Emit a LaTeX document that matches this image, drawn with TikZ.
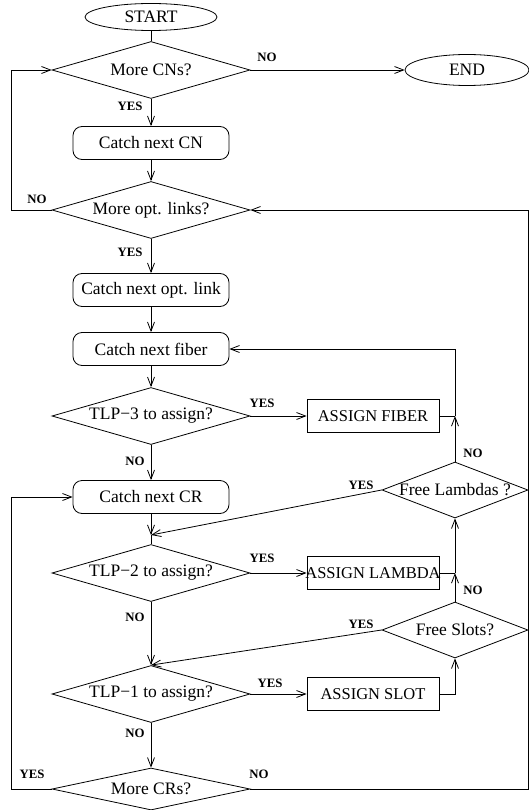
\documentclass[tikz,border=0pt]{standalone}
\usepackage{fontspec}
\setmainfont{Liberation Serif}
\usetikzlibrary{arrows.meta,positioning,shapes.geometric}

\begin{document}
\begin{tikzpicture}[x=1pt,y=-1pt,node distance=60pt,on grid,auto,line width=0.8pt,
   >={Straight Barb[length=9pt,width=7pt]},
   term/.style={ellipse,draw,minimum width=132pt,minimum height=27pt,inner sep=0pt,font=\fontsize{17.5}{20}\selectfont},
   proc/.style={rectangle,rounded corners=9pt,draw,minimum width=156pt,minimum height=33pt,inner sep=0pt,font=\fontsize{17.5}{20}\selectfont},
   act/.style={rectangle,draw,minimum width=132pt,minimum height=33pt,inner sep=0pt,font=\fontsize{16.5}{19}\selectfont},
   test/.style={diamond,draw,aspect=3.47,minimum width=198pt,minimum height=57pt,inner sep=0pt,font=\fontsize{17.5}{20}\selectfont},
   free/.style={test,aspect=2.6,minimum width=146pt,minimum height=56pt},
   lbl/.style={font=\bfseries\fontsize{12.8}{14}\selectfont,inner sep=0pt}]
   \useasboundingbox (0,0) rectangle (529,810);
   \node[term] (start) at (151,17) {START};
   \node[test] (cns) [below =53pt of start] {More CNs?};
   \node[term,minimum width=124pt,minimum height=31pt] (end) [right =316pt of cns] {END};
   \node[proc] (cn) [below =73pt of cns] {Catch next CN};
   \node[test] (opt) [below =67pt of cn] {More opt. links?};
   \node[proc] (optl) [below =80pt of opt] {Catch next opt. link};
   \node[proc] (fib) [below =59pt of optl] {Catch next fiber};
   \node[test] (tlp3) [below =67pt of fib] {TLP−3 to assign?};
   \node[proc] (cr) [below =81pt of tlp3] {Catch next CR};
   \node[test] (tlp2) [below =76pt of cr] {TLP−2 to assign?};
   \node[test] (tlp1) [below =121pt of tlp2] {TLP−1 to assign?};
   \node[test,aspect=4.71,minimum height=42pt] (crs) [below =95pt of tlp1] {More CRs?};
   \node[act] (asf) [right =222pt of tlp3] {ASSIGN FIBER};
   \node[act] (asl) [right =222pt of tlp2] {\makebox[0pt]{ASSIGN LAMBDA}};
   \node[act] (ass) [right =222pt of tlp1] {ASSIGN SLOT};
   \node[free] (fl) [below right =74pt and 82pt of asf] {\makebox[0pt]{Free Lambdas ?}};
   \node[free] (fs) [below =140pt of fl] {Free Slots?};
   \coordinate (lx) at (11,0);
   \coordinate (rx) at (528,0);
   \coordinate (j3) at (fl |- asf);
   \coordinate (j2) at (fs |- asl);
   \coordinate[above =38pt of tlp2] (m2);
   \draw (start) -- (cns);
   \path[->]
    (cns) edge (cn)
    (cns.east) edge (end)
    (cn) edge (opt)
    (opt) edge (optl)
    (optl) edge (fib)
    (fib) edge (tlp3)
    (tlp3.east) edge (asf)
    (tlp3) edge (cr)
    (cr) edge (m2)
    (fl.west) edge (m2)
    (tlp2.east) edge (asl)
    (tlp2) edge (tlp1)
    (fs.west) edge (tlp1.north)
    (tlp1.east) edge (ass)
    (tlp1) edge (crs)
    (fl) edge (j3)
    (fs) edge (j2)
    (j2) edge (fl);
   \draw (m2) -- (tlp2.north);
   \draw (asf) -- (j3);
   \draw (asl) -- (j2);
   \draw[->] (j3) |- (fib);
   \draw[->] (ass) -| (fs);
   \draw[->] (opt.west) -- (opt.west -| lx) |- (cns.west);
   \draw[->] (crs.west) -- (crs.west -| lx) |- (cr.west);
   \draw[->] (crs.east) -- (crs.east -| rx) |- (opt.east);
   \node[lbl] (no1) at (267,57) {NO};
   \node[lbl] (yes1) at (130,106) {YES};
   \node[lbl] (no2) at (37,199) {NO};
   \node[lbl] (yes2) at (130,252) {YES};
   \node[lbl] (yes3) at (262,403) {YES};
   \node[lbl] (no3) at (135,461) {NO};
   \node[lbl] (no4) at (473,453) {NO};
   \node[lbl] (yes4) at (361,485) {YES};
   \node[lbl] (yes5) at (262,558) {YES};
   \node[lbl] (no5) at (135,617) {NO};
   \node[lbl] (no6) at (473,590) {NO};
   \node[lbl] (yes6) at (361,624) {YES};
   \node[lbl] (yes7) at (270,683) {YES};
   \node[lbl] (no7) at (135,733) {NO};
   \node[lbl] (yes8) at (32,774) {YES};
   \node[lbl] (no8) at (259,774) {NO};
\end{tikzpicture}
\end{document}
